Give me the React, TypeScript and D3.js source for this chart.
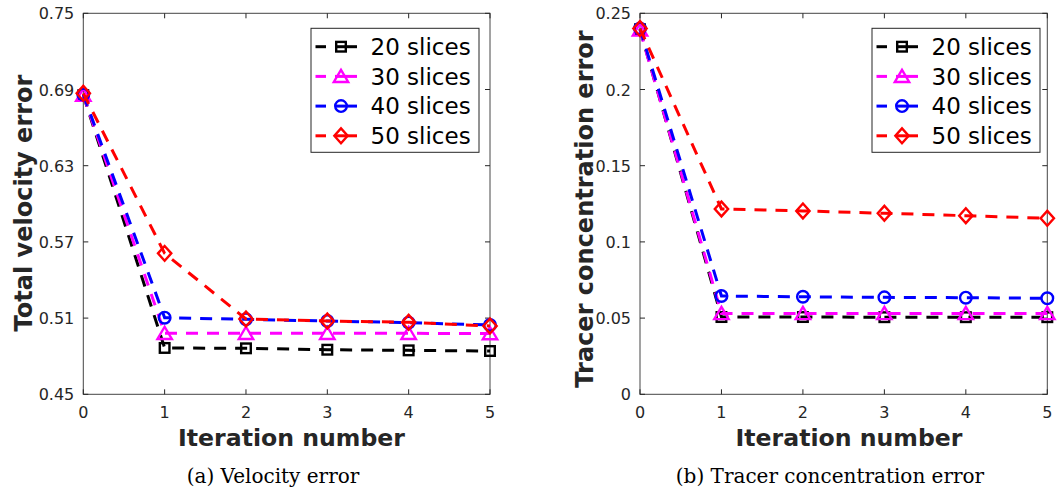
import React from 'react';
import * as d3 from 'd3';

const iterations = [0, 1, 2, 3, 4, 5];
const seriesNames = ['20 slices', '30 slices', '40 slices', '50 slices'];
const seriesColors = ['#000000', '#ff00ff', '#0000ff', '#ff0000'];
const seriesMarkers = ['square', 'triangle', 'circle', 'diamond'];

const velocity20 = [0.6855, 0.4865, 0.4862, 0.4851, 0.4846, 0.4841];
const velocity30 = [0.6855, 0.498, 0.498, 0.498, 0.498, 0.4978];
const velocity40 = [0.686, 0.5103, 0.509, 0.5077, 0.5064, 0.5046];
const velocity50 = [0.687, 0.561, 0.5093, 0.5077, 0.5067, 0.5038];

const tracer20 = [0.2395, 0.0507, 0.0507, 0.0506, 0.0506, 0.0506];
const tracer30 = [0.239, 0.053, 0.053, 0.053, 0.053, 0.053];
const tracer40 = [0.24, 0.0645, 0.064, 0.0636, 0.0634, 0.063];
const tracer50 = [0.24, 0.1216, 0.1203, 0.1188, 0.1172, 0.1155];

const xTicks = [0, 1, 2, 3, 4, 5];
const velocityTicks = [0.45, 0.51, 0.57, 0.63, 0.69, 0.75];
const velocityTickLabels = ['0.45', '0.51', '0.57', '0.63', '0.69', '0.75'];
const tracerTicks = [0, 0.05, 0.1, 0.15, 0.2, 0.25];
const tracerTickLabels = ['0', '0.05', '0.1', '0.15', '0.2', '0.25'];

const AXIS = '#262626';
const SANS = 'DejaVu Sans, sans-serif';
const SERIF = 'DejaVu Serif, serif';

function Marker({ kind, x, y, color }: { kind: string; x: number; y: number; color: string }) {
  const common = { fill: 'none', stroke: color, strokeWidth: 2.4 };
  if (kind === 'square') {
    const s = 4.8;
    return <rect x={x - s} y={y - s} width={2 * s} height={2 * s} {...common} />;
  }
  if (kind === 'circle') {
    return <circle cx={x} cy={y} r={5.8} {...common} />;
  }
  if (kind === 'triangle') {
    const w = 7.2, h = 6.6;
    return <path d={`M${x},${y - h}L${x + w},${y + h * 0.85}L${x - w},${y + h * 0.85}Z`} {...common} strokeLinejoin="miter" />;
  }
  const d = 7.4;
  return <path d={`M${x},${y - d}L${x + d * 0.9},${y}L${x},${y + d}L${x - d * 0.9},${y}Z`} {...common} />;
}

type PanelProps = {
  x0: number; x1: number; top: number; bottom: number;
  domain: [number, number];
  yTicks: number[]; yTickLabels: string[];
  series: number[][];
  ylabel: string; ylabelX: number; ylabelY: number;
  xlabelX: number;
  caption: string; captionX: number;
  legendX: number;
};

function Panel(p: PanelProps) {
  const x = d3.scaleLinear().domain([0, 5]).range([p.x0, p.x1]);
  const y = d3.scaleLinear().domain(p.domain).range([p.bottom, p.top]);
  const line = d3.line<number>().x((_, i) => x(iterations[i])).y(d => y(d));
  const tickLen = 5;
  const lgTop = 28.3, lgW = 168, lgH = 124, rowH = 29.7;
  return (
    <g>
      <rect x={p.x0} y={p.top} width={p.x1 - p.x0} height={p.bottom - p.top} fill="#ffffff" stroke={AXIS} strokeWidth={1} opacity={0.85} />
      {xTicks.map(t => (
        <g key={'xt' + t}>
          <line x1={x(t)} x2={x(t)} y1={p.bottom} y2={p.bottom - tickLen} stroke={AXIS} />
          <line x1={x(t)} x2={x(t)} y1={p.top} y2={p.top + tickLen} stroke={AXIS} />
          <text x={x(t)} y={p.bottom + 24} textAnchor="middle" fontFamily={SANS} fontSize={16} fill={AXIS}>{t}</text>
        </g>
      ))}
      {p.yTicks.map((t, i) => (
        <g key={'yt' + t}>
          <line x1={p.x0} x2={p.x0 + tickLen} y1={y(t)} y2={y(t)} stroke={AXIS} />
          <line x1={p.x1} x2={p.x1 - tickLen} y1={y(t)} y2={y(t)} stroke={AXIS} />
          <text x={p.x0 - 9} y={y(t) + 6} textAnchor="end" fontFamily={SANS} fontSize={16} fill={AXIS}>{p.yTickLabels[i]}</text>
        </g>
      ))}
      {p.series.map((vals, si) => (
        <g key={'s' + si}>
          <path d={line(vals) || ''} fill="none" stroke={seriesColors[si]} strokeWidth={3} strokeDasharray="12,9" />
          {vals.map((v, i) => (
            <Marker key={i} kind={seriesMarkers[si]} x={x(iterations[i])} y={y(v)} color={seriesColors[si]} />
          ))}
        </g>
      ))}
      <rect x={p.legendX} y={lgTop} width={lgW} height={lgH} fill="#ffffff" stroke={AXIS} strokeWidth={1} />
      {seriesNames.map((name, si) => {
        const cy = lgTop + 18.4 + si * rowH;
        const L = p.legendX;
        return (
          <g key={'lg' + si}>
            <line x1={L + 4.5} x2={L + 15} y1={cy} y2={cy} stroke={seriesColors[si]} strokeWidth={3} />
            <line x1={L + 24} x2={L + 46} y1={cy} y2={cy} stroke={seriesColors[si]} strokeWidth={3} />
            <Marker kind={seriesMarkers[si]} x={L + 30} y={cy} color={seriesColors[si]} />
            <text x={L + 59.5} y={cy + 8.3} fontFamily={SANS} fontSize={23} fill="#000000">{name}</text>
          </g>
        );
      })}
      <text x={p.xlabelX} y={446} textAnchor="middle" fontFamily={SANS} fontWeight="bold" fontSize={23.6} fill={AXIS}>Iteration number</text>
      <text transform={`translate(${p.ylabelX},${p.ylabelY}) rotate(-90)`} textAnchor="middle" fontFamily={SANS} fontWeight="bold" fontSize={24} fill={AXIS}>{p.ylabel}</text>
      <text x={p.captionX} y={483} textAnchor="middle" fontFamily={SERIF} fontSize={20} fill="#000000">{p.caption}</text>
    </g>
  );
}

export default function App() {
  return (
    <svg width={1059} height={493} viewBox="0 0 1059 493" style={{ position: 'absolute', left: 0, top: 0, background: '#ffffff' }}>
      <rect x={0} y={0} width={1059} height={493} fill="#ffffff" />
      <Panel x0={83.3} x1={490} top={13.3} bottom={394.3} domain={[0.45, 0.75]}
        yTicks={velocityTicks} yTickLabels={velocityTickLabels}
        series={[velocity20, velocity30, velocity40, velocity50]}
        ylabel="Total velocity error" ylabelX={32} ylabelY={203}
        xlabelX={291.5} caption="(a) Velocity error" captionX={273} legendX={311} />
      <Panel x0={640} x1={1047.3} top={13.3} bottom={394.3} domain={[0, 0.25]}
        yTicks={tracerTicks} yTickLabels={tracerTickLabels}
        series={[tracer20, tracer30, tracer40, tracer50]}
        ylabel="Tracer concentration error" ylabelX={593} ylabelY={209}
        xlabelX={849} caption="(b) Tracer concentration error" captionX={830} legendX={872} />
    </svg>
  );
}
